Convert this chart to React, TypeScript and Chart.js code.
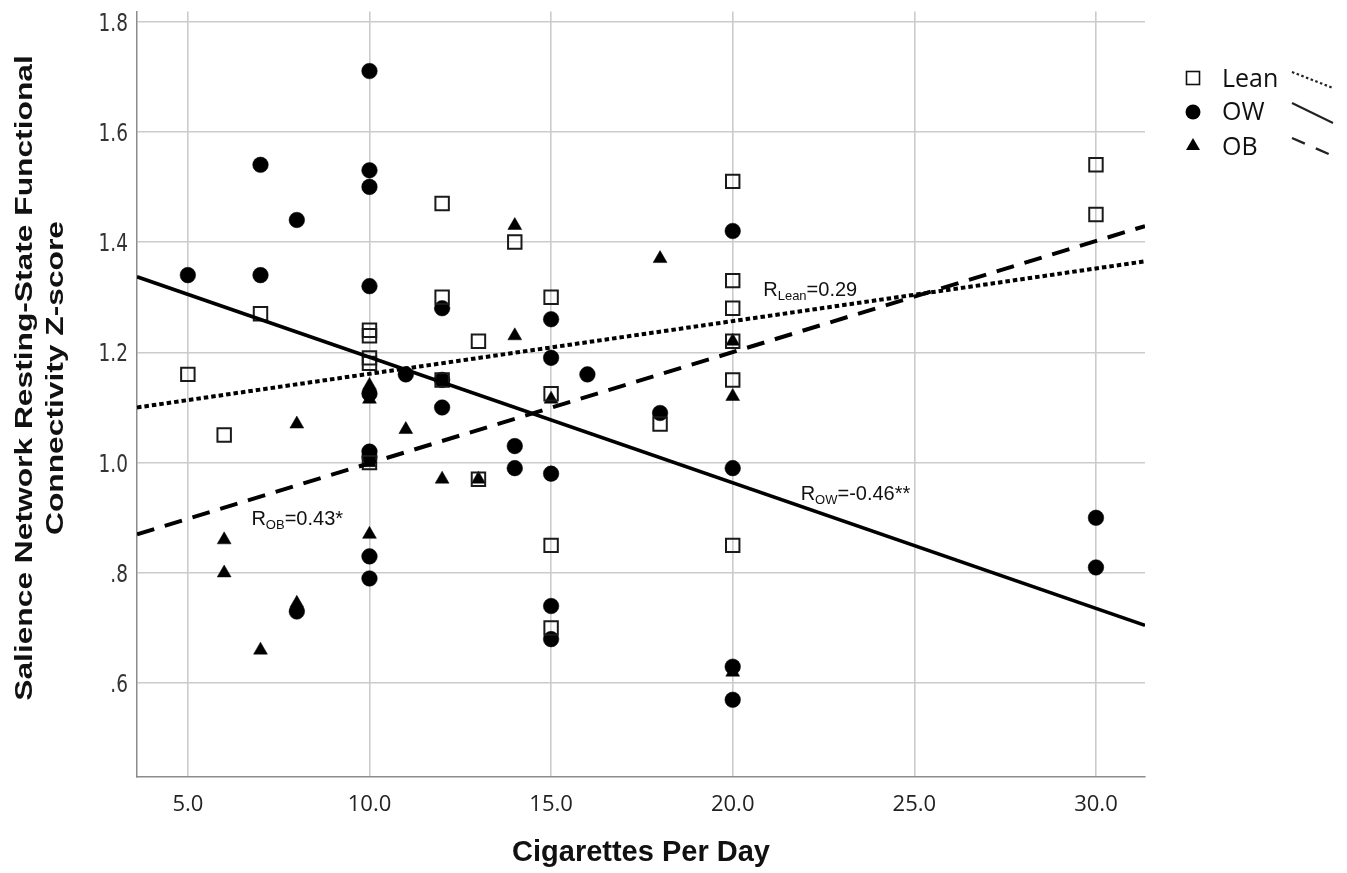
import React, { useEffect, useRef } from 'react';
import { Chart, registerables } from 'chart.js';

Chart.register(...registerables);

// ---- tick values / labels ----
const xTickValues = [5, 10, 15, 20, 25, 30];
const xTickLabels = ['5.0', '10.0', '15.0', '20.0', '25.0', '30.0'];
const yTickValues = [0.6, 0.8, 1.0, 1.2, 1.4, 1.6, 1.8];
const yTickLabels = ['.6', '.8', '1.0', '1.2', '1.4', '1.6', '1.8'];

const xTitle = 'Cigarettes Per Day';
const yTitleLines = ['Salience Network Resting-State Functional', 'Connectivity Z-score'];
const seriesNames = ['Lean', 'OW', 'OB'];

// ---- series values ----
const leanX = [5, 6, 7, 10, 10, 10, 10, 10, 12, 12, 12, 13, 13, 14, 15, 15, 15, 15, 18, 20, 20, 20, 20, 20, 20, 30, 30];
const leanY = [1.16, 1.05, 1.27, 1.24, 1.23, 1.19, 1.18, 1.0, 1.47, 1.3, 1.15, 1.22, 0.97, 1.4, 1.3, 1.125, 0.85, 0.7, 1.07, 1.51, 1.33, 1.28, 1.22, 1.15, 0.85, 1.54, 1.45];

const owX = [5, 7, 7, 8, 8, 10, 10, 10, 10, 10, 10, 10, 10, 10, 11, 12, 12, 12, 14, 14, 15, 15, 15, 15, 15, 16, 18, 20, 20, 20, 20, 30, 30];
const owY = [1.34, 1.54, 1.34, 1.44, 0.73, 1.71, 1.53, 1.5, 1.32, 1.125, 1.02, 1.01, 0.83, 0.79, 1.16, 1.28, 1.15, 1.1, 1.03, 0.99, 1.26, 1.19, 0.98, 0.74, 0.68, 1.16, 1.09, 1.42, 0.99, 0.63, 0.57, 0.9, 0.81];

const obX = [6, 6, 7, 8, 8, 10, 10, 10, 10, 11, 12, 13, 14, 14, 15, 18, 20, 20, 20];
const obY = [0.86, 0.8, 0.66, 1.07, 0.745, 1.14, 1.115, 1.0, 0.87, 1.06, 0.97, 0.97, 1.43, 1.23, 1.115, 1.37, 1.22, 1.12, 0.62];

// fit lines (end points)
const leanFitX = [3.6, 31.35];
const leanFitY = [1.1, 1.365];
const owFitX = [3.6, 31.35];
const owFitY = [1.337, 0.705];
const obFitX = [3.6, 31.35];
const obFitY = [0.87, 1.429];

// correlation labels
const rMain = ['R', 'R', 'R'];
const rSub = ['Lean', 'OW', 'OB'];
const rRest = ['=0.29', '=-0.46**', '=0.43*'];
const rAtX = [20.84, 21.87, 6.75];
const rAtY = [1.303, 0.932, 0.887];

const toPoints = (xs: number[], ys: number[]) => xs.map((x, i) => ({ x, y: ys[i] }));

function drawScaledText(
  ctx: CanvasRenderingContext2D,
  text: string,
  x: number,
  y: number,
  font: string,
  sx: number,
  sy: number,
  align: CanvasTextAlign,
  color: string
) {
  ctx.save();
  ctx.translate(x, y);
  ctx.scale(sx, sy);
  ctx.font = font;
  ctx.textAlign = align;
  ctx.textBaseline = 'alphabetic';
  ctx.fillStyle = color;
  ctx.fillText(text, 0, 0);
  ctx.restore();
}

const textPlugin = {
  id: 'textPlugin',
  afterDraw(chart: any) {
    const ctx: CanvasRenderingContext2D = chart.ctx;
    const xs = chart.scales.x;
    const ys = chart.scales.y;
    const ca = chart.chartArea;

    // y tick labels
    const ySize = 18.5;
    const ySy = 1.35;
    yTickValues.forEach((v, i) => {
      const py = ys.getPixelForValue(v);
      drawScaledText(ctx, yTickLabels[i], ca.left - 9, py + ySize * 0.729 * 0.5 * ySy, `${ySize}px "DejaVu Sans"`, 1, ySy, 'right', '#333');
    });

    // x tick labels
    xTickValues.forEach((v, i) => {
      const px = xs.getPixelForValue(v);
      drawScaledText(ctx, xTickLabels[i], px, ca.bottom + 34, '22px "Open Sans"', 1, 1, 'center', '#222');
    });

    // x title
    drawScaledText(ctx, xTitle, (ca.left + ca.right) / 2, ca.bottom + 84, 'bold 29px "Liberation Sans"', 1, 1, 'center', '#111');

    // y title (rotated, two lines)
    const yc = 378;
    const lineX = [26, 57];
    yTitleLines.forEach((t, i) => {
      ctx.save();
      ctx.translate(lineX[i], yc);
      ctx.rotate(-Math.PI / 2);
      ctx.scale(1.38, 1);
      ctx.font = 'bold 23px "Liberation Sans"';
      ctx.textAlign = 'center';
      ctx.textBaseline = 'middle';
      ctx.fillStyle = '#111';
      ctx.fillText(t, 0, 0);
      ctx.restore();
    });

    // correlation labels
    rMain.forEach((m, i) => {
      const px = xs.getPixelForValue(rAtX[i]);
      const py = ys.getPixelForValue(rAtY[i]);
      ctx.save();
      ctx.fillStyle = '#111';
      ctx.textBaseline = 'alphabetic';
      ctx.textAlign = 'left';
      ctx.font = '20px "Liberation Sans"';
      ctx.fillText(m, px, py);
      const w1 = ctx.measureText(m).width;
      ctx.font = '13px "Liberation Sans"';
      ctx.fillText(rSub[i], px + w1, py + 4);
      const w2 = ctx.measureText(rSub[i]).width;
      ctx.font = '20px "Liberation Sans"';
      ctx.fillText(rRest[i], px + w1 + w2, py);
      ctx.restore();
    });

    // legend
    const legY = [78, 112, 145];
    const textBase = [86.7, 120, 155];
    const mx = 1193;
    ctx.save();
    ctx.fillStyle = '#000';
    ctx.strokeStyle = '#111';
    // square
    ctx.lineWidth = 1.6;
    ctx.strokeRect(mx - 6.5, legY[0] - 6.5, 13, 13);
    // circle
    ctx.beginPath();
    ctx.arc(mx, legY[1], 7.5, 0, Math.PI * 2);
    ctx.fill();
    // triangle
    ctx.beginPath();
    ctx.moveTo(mx, legY[2] - 7);
    ctx.lineTo(mx + 7, legY[2] + 5);
    ctx.lineTo(mx - 7, legY[2] + 5);
    ctx.closePath();
    ctx.fill();
    ctx.font = '25px "Open Sans"';
    ctx.textAlign = 'left';
    ctx.textBaseline = 'alphabetic';
    ctx.fillStyle = '#111';
    seriesNames.forEach((n, i) => ctx.fillText(n, 1222, textBase[i]));
    // line samples
    ctx.strokeStyle = '#222';
    ctx.lineCap = 'butt';
    ctx.lineWidth = 2.2;
    ctx.setLineDash([2.5, 2.5]);
    ctx.beginPath();
    ctx.moveTo(1292, 72);
    ctx.lineTo(1333, 88);
    ctx.stroke();
    ctx.setLineDash([]);
    ctx.lineWidth = 2;
    ctx.beginPath();
    ctx.moveTo(1292, 103);
    ctx.lineTo(1333, 123);
    ctx.stroke();
    ctx.lineWidth = 2.4;
    ctx.setLineDash([14, 12]);
    ctx.beginPath();
    ctx.moveTo(1292, 138);
    ctx.lineTo(1331, 155);
    ctx.stroke();
    ctx.restore();
  },
};

export default function App() {
  const canvasRef = useRef<HTMLCanvasElement | null>(null);

  useEffect(() => {
    const canvas = canvasRef.current;
    if (!canvas) return;
    const chart = new Chart(canvas, {
      type: 'scatter',
      data: {
        datasets: [
          {
            label: 'Lean fit',
            data: toPoints(leanFitX, leanFitY),
            showLine: true,
            borderColor: '#000',
            borderWidth: 4,
            borderDash: [4.5, 3],
            borderCapStyle: 'butt',
            pointRadius: 0,
            order: 0,
          },
          {
            label: 'OW fit',
            data: toPoints(owFitX, owFitY),
            showLine: true,
            borderColor: '#000',
            borderWidth: 3.5,
            pointRadius: 0,
            order: 0,
          },
          {
            label: 'OB fit',
            data: toPoints(obFitX, obFitY),
            showLine: true,
            borderColor: '#000',
            borderWidth: 4,
            borderDash: [18, 11],
            borderCapStyle: 'butt',
            pointRadius: 0,
            order: 0,
          },
          {
            label: seriesNames[0],
            data: toPoints(leanX, leanY),
            pointStyle: 'rect',
            pointRadius: 9.5,
            pointBorderWidth: 2,
            pointBorderColor: '#1a1a1a',
            pointBackgroundColor: 'rgba(0,0,0,0)',
            order: 1,
          },
          {
            label: seriesNames[1],
            data: toPoints(owX, owY),
            pointStyle: 'circle',
            pointRadius: 7.8,
            pointBorderWidth: 0.5,
            pointBorderColor: '#000',
            pointBackgroundColor: '#000',
            order: 2,
          },
          {
            label: seriesNames[2],
            data: toPoints(obX, obY),
            pointStyle: 'triangle',
            pointRadius: 8,
            pointBorderWidth: 0.5,
            pointBorderColor: '#000',
            pointBackgroundColor: '#000',
            order: 3,
          },
        ],
      } as any,
      options: {
        animation: false,
        responsive: false,
        devicePixelRatio: 1,
        events: [],
        layout: { padding: { top: 8, right: 202, bottom: 0, left: 0 } },
        plugins: {
          legend: { display: false },
          tooltip: { enabled: false },
          title: { display: false },
        },
        scales: {
          x: {
            type: 'linear',
            min: 3.6,
            max: 31.35,
            afterBuildTicks: (s: any) => {
              s.ticks = xTickValues.map((v) => ({ value: v }));
            },
            afterFit: (s: any) => {
              s.height = 96;
            },
            ticks: { display: false },
            grid: { color: '#cbcbcb', lineWidth: 1.6, drawTicks: false },
            border: { color: '#8c8c8c', width: 1.5 },
          },
          y: {
            type: 'linear',
            min: 0.43,
            max: 1.818,
            afterBuildTicks: (s: any) => {
              s.ticks = yTickValues.map((v) => ({ value: v }));
            },
            afterFit: (s: any) => {
              s.width = 137;
            },
            ticks: { display: false },
            grid: { color: '#cbcbcb', lineWidth: 1.6, drawTicks: false },
            border: { color: '#8c8c8c', width: 1.5 },
          },
        },
      } as any,
      plugins: [textPlugin],
    });
    return () => chart.destroy();
  }, []);

  return (
    <div style={{ position: 'absolute', left: 0, top: 0, width: 1347, height: 873, background: '#fff' }}>
      <canvas ref={canvasRef} width={1347} height={873} style={{ width: 1347, height: 873, display: 'block' }} />
    </div>
  );
}
